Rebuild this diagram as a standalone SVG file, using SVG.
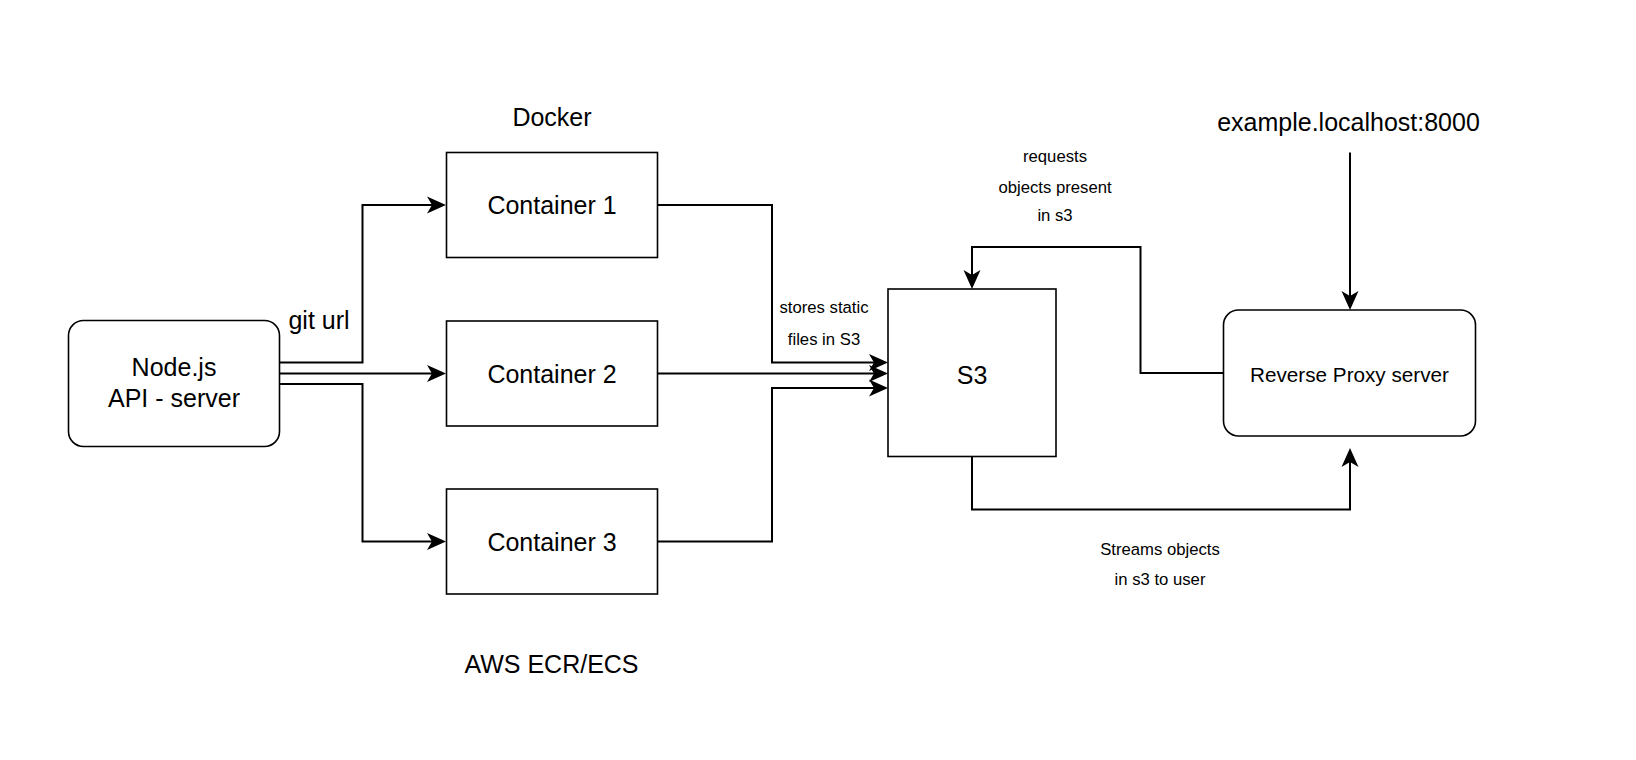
<svg xmlns="http://www.w3.org/2000/svg" width="1636" height="760" viewBox="0 0 1636 760">
  <style>
    .box { fill: #ffffff; stroke: #000000; stroke-width: 1.6; }
    .edge { fill: none; stroke: #000000; stroke-width: 2; marker-end: url(#arrow); }
    .edge-plain { fill: none; stroke: #000000; stroke-width: 2; }
    text { font-family: "Liberation Sans", Arial, Helvetica, sans-serif; fill: #000000; text-anchor: middle; }
    .big { font-size: 25px; }
    .mid { font-size: 20.7px; }
    .small { font-size: 16.7px; }
  </style>
  <defs>
    <marker id="arrow" viewBox="-6 -10 21 20" refX="0" refY="0" markerWidth="21" markerHeight="20" markerUnits="userSpaceOnUse" orient="auto">
      <path d="M14,0 L-5,-8.5 L0,0 L-5,8.5 Z" fill="#000000" stroke="none"/>
    </marker>
  </defs>
  <rect width="1636" height="760" fill="#ffffff"/>

  <g id="connectors">
    <path class="edge" d="M279,362.5 H362.5 V205 H432"/>
    <path class="edge" d="M279,373.5 H432"/>
    <path class="edge" d="M279,384 H362.5 V541.5 H432"/>
    <path class="edge" d="M657,205 H772 V362.5 H874"/>
    <path class="edge" d="M657,373.5 H874"/>
    <path class="edge" d="M657,541.5 H772 V388 H874"/>
    <path class="edge" d="M1224,373 H1140.5 V247 H972 V275"/>
    <path class="edge" d="M972,457 V509.5 H1350 V462"/>
    <path class="edge" d="M1350,152.5 V296"/>
  </g>

  <g id="label-docker"><text class="big" x="552" y="125.5">Docker</text></g>
  <g id="label-aws"><text class="big" x="551.5" y="673">AWS ECR/ECS</text></g>
  <g id="label-git-url"><text class="big" x="319" y="329.3">git url</text></g>
  <g id="label-stores">
    <text class="small" x="824" y="313.3">stores static</text>
    <text class="small" x="824" y="345">files in S3</text>
  </g>
  <g id="label-requests">
    <text class="small" x="1055" y="161.5">requests</text>
    <text class="small" x="1055" y="193">objects present</text>
    <text class="small" x="1055" y="221">in s3</text>
  </g>
  <g id="label-streams">
    <text class="small" x="1160" y="555">Streams objects</text>
    <text class="small" x="1160" y="585">in s3 to user</text>
  </g>
  <g id="label-example"><text class="big" x="1348.5" y="130.7">example.localhost:8000</text></g>

  <g id="node-nodejs">
    <rect class="box" x="68.5" y="320.5" width="211" height="126" rx="15" ry="15"/>
    <text class="big" x="174" y="375.7">Node.js</text>
    <text class="big" x="174" y="406.7">API - server</text>
  </g>
  <g id="node-container1">
    <rect class="box" x="446.5" y="152.5" width="211" height="105"/>
    <text class="big" x="552" y="214.3">Container 1</text>
  </g>
  <g id="node-container2">
    <rect class="box" x="446.5" y="321" width="211" height="105"/>
    <text class="big" x="552" y="382.5">Container 2</text>
  </g>
  <g id="node-container3">
    <rect class="box" x="446.5" y="489" width="211" height="105"/>
    <text class="big" x="552" y="550.5">Container 3</text>
  </g>
  <g id="node-s3">
    <rect class="box" x="888" y="289" width="168" height="167.5"/>
    <text class="big" x="972" y="383.5">S3</text>
  </g>
  <g id="node-proxy">
    <rect class="box" x="1223.5" y="310" width="252" height="126" rx="15" ry="15"/>
    <text class="mid" x="1349.5" y="382.3">Reverse Proxy server</text>
  </g>
</svg>
